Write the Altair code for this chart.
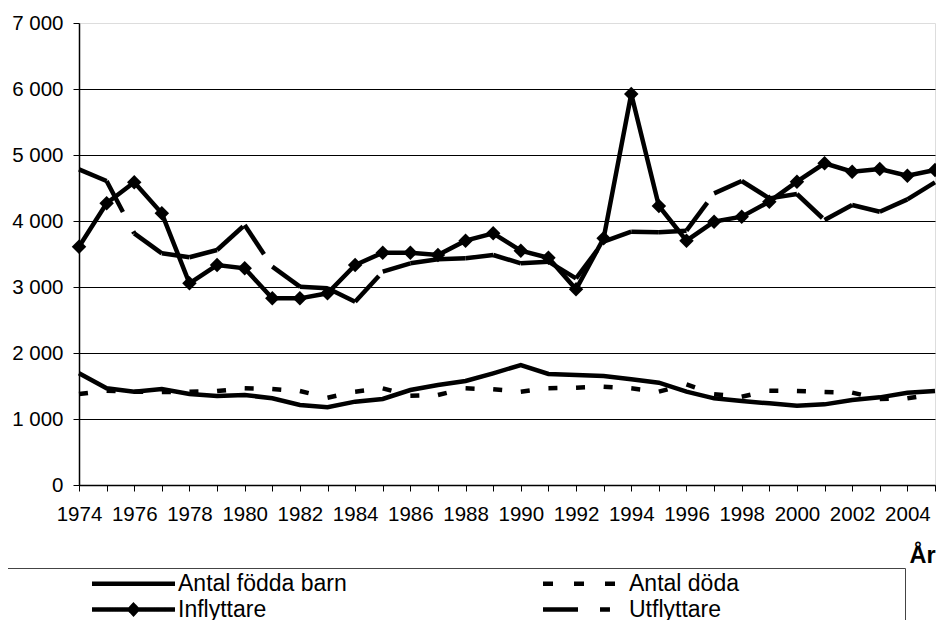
import altair as alt
import pandas as pd

# ---------------- data ----------------
years = list(range(1974, 2006))

fodda = [1692, 1465, 1414, 1455, 1379, 1348, 1364, 1313, 1212, 1177, 1263, 1303,
         1439, 1515, 1576, 1692, 1818, 1682, 1667, 1652, 1601, 1550, 1414, 1313,
         1273, 1237, 1202, 1222, 1288, 1328, 1399, 1424]

doda = [1379, 1429, 1414, 1409, 1414, 1424, 1465, 1455, 1424, 1323, 1414, 1465,
        1353, 1364, 1465, 1449, 1414, 1465, 1475, 1490, 1465, 1414, 1525, 1374,
        1338, 1429, 1424, 1409, 1399, 1303, 1313, 1379]

infl = [3611, 4268, 4586, 4116, 3056, 3333, 3283, 2828, 2828, 2904, 3333, 3520,
        3520, 3485, 3702, 3813, 3550, 3444, 2965, 3737, 5924, 4227, 3702, 3990,
        4066, 4293, 4596, 4874, 4747, 4788, 4687, 4773]

utfl = [4783, 4606, 3813, 3510, 3450, 3560, 3939, 3308, 3005, 2980, 2778, 3232,
        3359, 3419, 3434, 3485, 3359, 3384, 3131, 3687, 3838, 3828, 3853, 4419,
        4606, 4343, 4409, 4015, 4242, 4141, 4328, 4586]

# legend order (column-major: first column, then second column)
series_names = ["Antal födda barn", "Inflyttare", "Antal döda", "Utflyttare"]
y_ticks = [0, 1000, 2000, 3000, 4000, 5000, 6000, 7000]

FONT = "Liberation Sans"

# ---------------- tables built from the arrays ----------------
def line_table(vals, name):
    return pd.DataFrame({"year": years, "value": vals, "serie": name})

def seg_table(vals, name):
    return pd.DataFrame({
        "year": years[:-1], "year2": years[1:],
        "value": vals[:-1], "value2": vals[1:],
        "serie": name,
    })

df_fodda = line_table(fodda, "Antal födda barn")
df_infl = line_table(infl, "Inflyttare")
seg_doda = seg_table(doda, "Antal döda")
seg_utfl = seg_table(utfl, "Utflyttare")

# ---------------- axes / scales ----------------
x_axis = alt.Axis(
    values=years, format="d",
    labelExpr="datum.value % 2 == 0 ? datum.label : ''",
    title="År", titleFont=FONT, titleFontSize=23.5, titleFontWeight="bold",
    titleColor="black", titleX=830, titleY=77, titleAlign="left",
    titleBaseline="alphabetic",
    grid=False, tickSize=6, tickColor="black", tickWidth=1,
    domainColor="black", domainWidth=1.5,
    labelFont=FONT, labelFontSize=20.5, labelColor="black", labelPadding=13,
    labelFlush=False, labelOverlap=False,
)
y_axis = alt.Axis(
    values=y_ticks, format=",.0f",
    labelExpr="replace(datum.label, ',', ' ')",
    title=None,
    grid=True, gridColor="black", gridWidth=1,
    gridOpacity={"condition": {"test": "datum.value >= 7000", "value": 0}, "value": 1},
    tickSize=6, tickColor="black", tickWidth=1,
    domainColor="black", domainWidth=1.5,
    labelFont=FONT, labelFontSize=20.5, labelColor="black", labelPadding=10,
    labelFlush=False,
)
x_scale = alt.Scale(domain=[1974, 2005], nice=False, zero=False)
y_scale = alt.Scale(domain=[0, 7000], nice=False)

X = alt.X("year:Q", scale=x_scale, axis=x_axis)
Y = alt.Y("value:Q", scale=y_scale, axis=y_axis)

LW = 4.5

fodda_line = alt.Chart(df_fodda).mark_line(color="black", strokeWidth=LW).encode(x=X, y=Y)
infl_line = alt.Chart(df_infl).mark_line(color="black", strokeWidth=LW).encode(x=X, y=Y)
infl_pts = alt.Chart(df_infl).mark_point(
    shape="diamond", filled=True, size=210, color="black", opacity=1
).encode(x=X, y=Y)

doda_rules = alt.Chart(seg_doda).mark_rule(
    color="black", strokeWidth=LW, strokeDash=[9, 21], strokeCap="butt"
).encode(x=X, x2="year2:Q", y=Y, y2="value2:Q")

utfl_rules = alt.Chart(seg_utfl).mark_rule(
    color="black", strokeWidth=LW, strokeDash=[35, 22, 10, 22], strokeCap="butt"
).encode(x=X, x2="year2:Q", y=Y, y2="value2:Q")

# ---------------- legend (from an empty layer, driven by scales) ----------------
# symbol size 324 -> 9 px per path unit
legend_paths = [
    "M-4.61,0L4.61,0",
    "M-4.61,0L4.61,0M-0.44,0L0,-0.47L0.44,0L0,0.47Z",
    "M-4.61,0L3.39,0",
    "M-4.61,0L2.83,0",
]
legend_dashes = [[1, 0], [1, 0], [10, 21], [35, 22, 10, 22]]

leg = alt.Legend(
    title=" ", titleOrient="right", titleFontSize=1, titlePadding=162,
    orient="none", legendX=-72, legendY=545,
    columns=2, columnPadding=115, rowPadding=0,
    padding=4, symbolOffset=111,
    symbolSize=324, symbolStrokeWidth=LW,
    symbolStrokeColor="black", symbolOpacity=1,
    labelFont=FONT, labelFontSize=23, labelColor="black", labelOffset=33,
    labelLimit=500,
    strokeColor="#444444",
)

legend_layer = alt.Chart(pd.DataFrame({"serie": series_names})).transform_filter(
    "false"
).mark_point(filled=False, color="black", strokeWidth=LW, opacity=1).encode(
    shape=alt.Shape("serie:N", scale=alt.Scale(domain=series_names, range=legend_paths), legend=leg),
    strokeDash=alt.StrokeDash("serie:N", scale=alt.Scale(domain=series_names, range=legend_dashes), legend=leg),
)

chart = alt.layer(
    fodda_line, doda_rules, utfl_rules, infl_line, infl_pts, legend_layer
).properties(
    width=856, height=462,
    autosize=alt.AutoSizeParams(type="none"),
    padding={"left": 71, "top": 15, "right": 1, "bottom": 135},
).configure_view(
    stroke="#8a8a8a", strokeWidth=2
).configure(
    font=FONT, background="white"
)

chart.save("out.html", embed_options={"renderer": "svg", "actions": False})
